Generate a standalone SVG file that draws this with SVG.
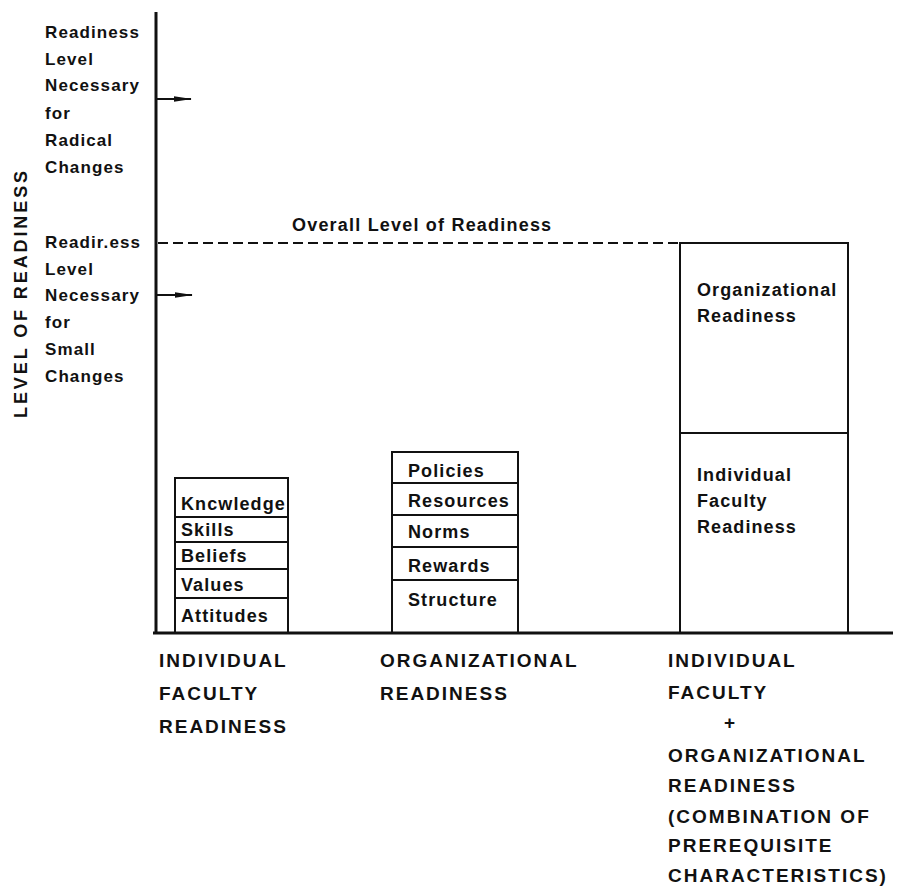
<svg xmlns="http://www.w3.org/2000/svg" width="899" height="888" viewBox="0 0 899 888">
  <style>
    text { font-family: "Liberation Sans", Arial, sans-serif; font-weight: bold; fill: #111; }
    .lbl { font-size: 17px; letter-spacing: 1.1px; }
    .box-lbl { font-size: 18px; letter-spacing: 1.1px; }
    .cap { font-size: 19px; letter-spacing: 2px; }
    .title { font-size: 18px; letter-spacing: 1.2px; }
    .axis-title { font-size: 18px; letter-spacing: 2.9px; }
    .cell { fill: #fff; stroke: #111; stroke-width: 2; }
    .axis { stroke: #111; stroke-width: 3; fill: none; }
    .guide { stroke: #111; stroke-width: 2; fill: none; }
    .dash { stroke: #111; stroke-width: 2; stroke-dasharray: 10 5; fill: none; }
  </style>
  <defs>
    <marker id="head" viewBox="0 0 18 8" refX="17" refY="4" markerWidth="18" markerHeight="8" markerUnits="userSpaceOnUse" orient="auto">
      <path d="M0,1.2 L18,4 L0,6.8 Z" fill="#111"/>
    </marker>
  </defs>
  <rect width="899" height="888" fill="#fff"/>

  <!-- vertical axis title -->
  <text class="axis-title" text-anchor="middle" transform="translate(27,293) rotate(-90)">LEVEL OF READINESS</text>

  <!-- threshold labels beside the axis -->
  <g id="radical-label">
    <text class="lbl" x="45" y="38">Readiness</text>
    <text class="lbl" x="45" y="65">Level</text>
    <text class="lbl" x="45" y="91">Necessary</text>
    <text class="lbl" x="45" y="119">for</text>
    <text class="lbl" x="45" y="146">Radical</text>
    <text class="lbl" x="45" y="173">Changes</text>
  </g>
  <g id="small-label">
    <text class="lbl" x="45" y="248">Readir.ess</text>
    <text class="lbl" x="45" y="275">Level</text>
    <text class="lbl" x="45" y="301">Necessary</text>
    <text class="lbl" x="45" y="328">for</text>
    <text class="lbl" x="45" y="355">Small</text>
    <text class="lbl" x="45" y="382">Changes</text>
  </g>

  <!-- individual faculty readiness stack -->
  <g id="individual-stack">
    <rect class="cell" x="175" y="478" width="113" height="39"/>
    <rect class="cell" x="175" y="517" width="113" height="25"/>
    <rect class="cell" x="175" y="542" width="113" height="27"/>
    <rect class="cell" x="175" y="569" width="113" height="29"/>
    <rect class="cell" x="175" y="598" width="113" height="35"/>
    <text class="box-lbl" x="181" y="510">Kncwledge</text>
    <text class="box-lbl" x="181" y="536">Skills</text>
    <text class="box-lbl" x="181" y="562">Beliefs</text>
    <text class="box-lbl" x="181" y="591">Values</text>
    <text class="box-lbl" x="181" y="622">Attitudes</text>
  </g>

  <!-- organizational readiness stack -->
  <g id="organizational-stack">
    <rect class="cell" x="392" y="452" width="126" height="31"/>
    <rect class="cell" x="392" y="483" width="126" height="32"/>
    <rect class="cell" x="392" y="515" width="126" height="32"/>
    <rect class="cell" x="392" y="547" width="126" height="33"/>
    <rect class="cell" x="392" y="580" width="126" height="53"/>
    <text class="box-lbl" x="408" y="477">Policies</text>
    <text class="box-lbl" x="408" y="507">Resources</text>
    <text class="box-lbl" x="408" y="538">Norms</text>
    <text class="box-lbl" x="408" y="572">Rewards</text>
    <text class="box-lbl" x="408" y="606">Structure</text>
  </g>

  <!-- combined readiness column -->
  <g id="combined-column">
    <rect class="cell" x="680" y="243" width="168" height="190"/>
    <rect class="cell" x="680" y="433" width="168" height="200"/>
    <text class="box-lbl" x="697" y="296">Organizational</text>
    <text class="box-lbl" x="697" y="322">Readiness</text>
    <text class="box-lbl" x="697" y="481">Individual</text>
    <text class="box-lbl" x="697" y="507">Faculty</text>
    <text class="box-lbl" x="697" y="533">Readiness</text>
  </g>

  <!-- axes -->
  <g id="axes">
    <line class="axis" x1="156" y1="12" x2="156" y2="634"/>
    <line class="axis" x1="153" y1="633" x2="893" y2="633"/>
  </g>

  <!-- level markers and overall readiness line -->
  <g id="connectors">
    <line class="guide" x1="156" y1="99" x2="191" y2="99" marker-end="url(#head)"/>
    <line class="guide" x1="156" y1="295" x2="192" y2="295" marker-end="url(#head)"/>
    <line class="dash" x1="158" y1="243" x2="680" y2="243"/>
  </g>
  <text class="title" x="292" y="231">Overall Level of Readiness</text>

  <!-- column captions -->
  <g id="caption-individual">
    <text class="cap" x="159" y="667">INDIVIDUAL</text>
    <text class="cap" x="159" y="700">FACULTY</text>
    <text class="cap" x="159" y="733">READINESS</text>
  </g>
  <g id="caption-organizational">
    <text class="cap" x="380" y="667">ORGANIZATIONAL</text>
    <text class="cap" x="380" y="700">READINESS</text>
  </g>
  <g id="caption-combined">
    <text class="cap" x="668" y="667">INDIVIDUAL</text>
    <text class="cap" x="668" y="699">FACULTY</text>
    <text class="cap" x="724" y="729">+</text>
    <text class="cap" x="668" y="762">ORGANIZATIONAL</text>
    <text class="cap" x="668" y="792">READINESS</text>
    <text class="cap" x="668" y="823">(COMBINATION OF</text>
    <text class="cap" x="668" y="852">PREREQUISITE</text>
    <text class="cap" x="668" y="882">CHARACTERISTICS)</text>
  </g>
</svg>
